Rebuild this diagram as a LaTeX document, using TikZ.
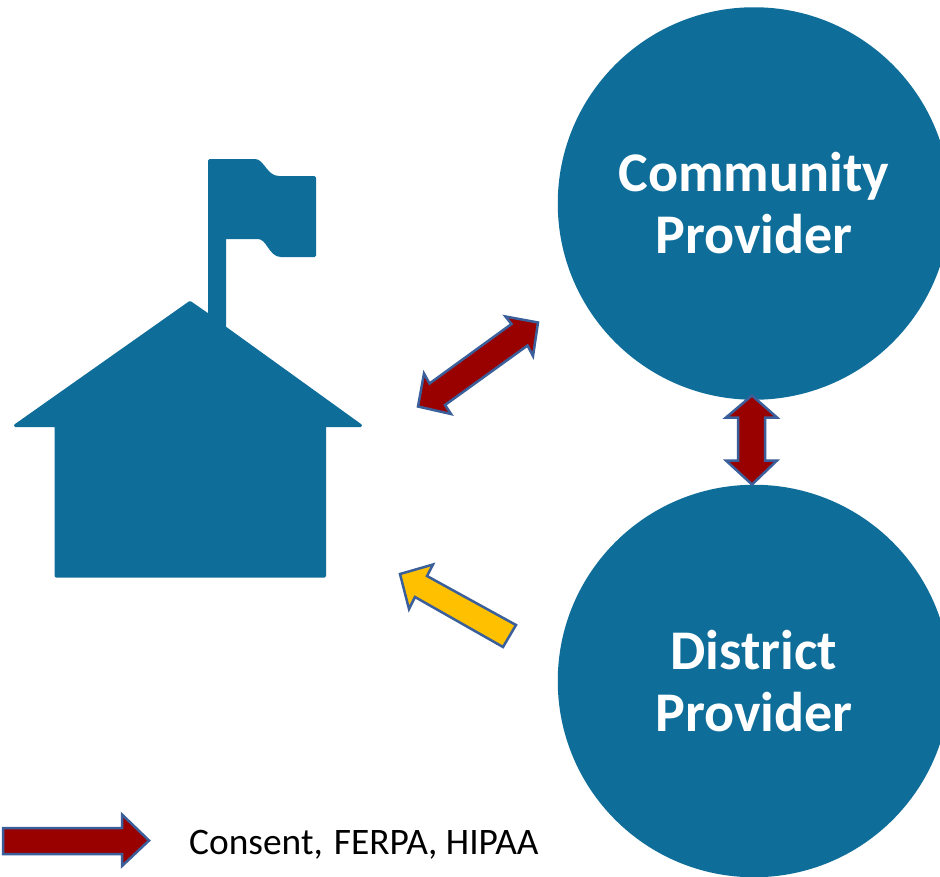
\documentclass[tikz,border=0pt]{standalone}
\usepackage{fontspec}
\setmainfont{Carlito}
\definecolor{tealblue}{HTML}{0F6E99}
\definecolor{darkred}{HTML}{990000}
\definecolor{amber}{HTML}{FFC000}
\definecolor{edgeblue}{HTML}{3A5F9A}
\tikzset{
  provider/.style={circle,fill=tealblue,inner sep=0pt,minimum size=392.5pt,text=white,align=center,
    font=\fontsize{56}{62}\selectfont\bfseries},
  building/.style={fill=tealblue,draw=tealblue,line width=3pt,line join=round},
  arrowshape/.style={draw=edgeblue,line width=2.5pt,line join=miter},
  redarrow/.style={arrowshape,fill=darkred},
  amberarrow/.style={arrowshape,fill=amber},
  legendtext/.style={anchor=west,inner sep=0pt,font=\fontsize{37.4}{40}\selectfont}
}
\begin{document}
\begin{tikzpicture}[x=1pt,y=-1pt]
\clip (0,0) rectangle (940,876);
\fill[white] (0,0) rectangle (940,876);
\node[provider] (community) at (754,203.5) {Community\\Provider};
\node[provider] (district) at (754,681) {District\\Provider};
% house
\path[building] (190,302.5) -- (209.5,316) -- (209.5,160.5) -- (255,160.5)
  .. controls (263,160.5) and (266,177.5) .. (279,177.5) -- (314.5,177.5) -- (314.5,255.5) -- (281,255.5)
  .. controls (270,255.5) and (268,237.5) .. (258,237.5) -- (224.5,237.5) -- (224.5,327.5)
  -- (360.5,425.5) -- (324.5,425.5) -- (324.5,576) -- (56,576) -- (56,425.5) -- (15.5,425.5) -- cycle;
% community <-> school
\path[redarrow] (538,322.5) -- (533,356) -- (527.5,345.5) -- (445,405) -- (451,414) -- (418,406.5)
  -- (424,373.5) -- (429.5,383.5) -- (511.5,324) -- (505.5,316.5) -- cycle;
% community <-> district
\path[redarrow] (752,395.5) -- (777,417.5) -- (765,417.5) -- (765,460.5) -- (777,460.5) -- (752,484.5)
  -- (726,460.5) -- (738,460.5) -- (738,417.5) -- (726,417.5) -- cycle;
% district -> school
\path[amberarrow] (400,574) -- (433,564.5) -- (427,576) -- (516,625) -- (503,647) -- (415,597) -- (409,609) -- cycle;
% legend
\path[redarrow] (3,828) -- (122,828) -- (122,814.5) -- (149,840.5) -- (122,866) -- (122,854) -- (3,854) -- cycle;
\node[legendtext] (legendlabel) at (189,844.5) {Consent,\hspace{0.07em} FERPA, HIPAA};
\end{tikzpicture}
\end{document}
